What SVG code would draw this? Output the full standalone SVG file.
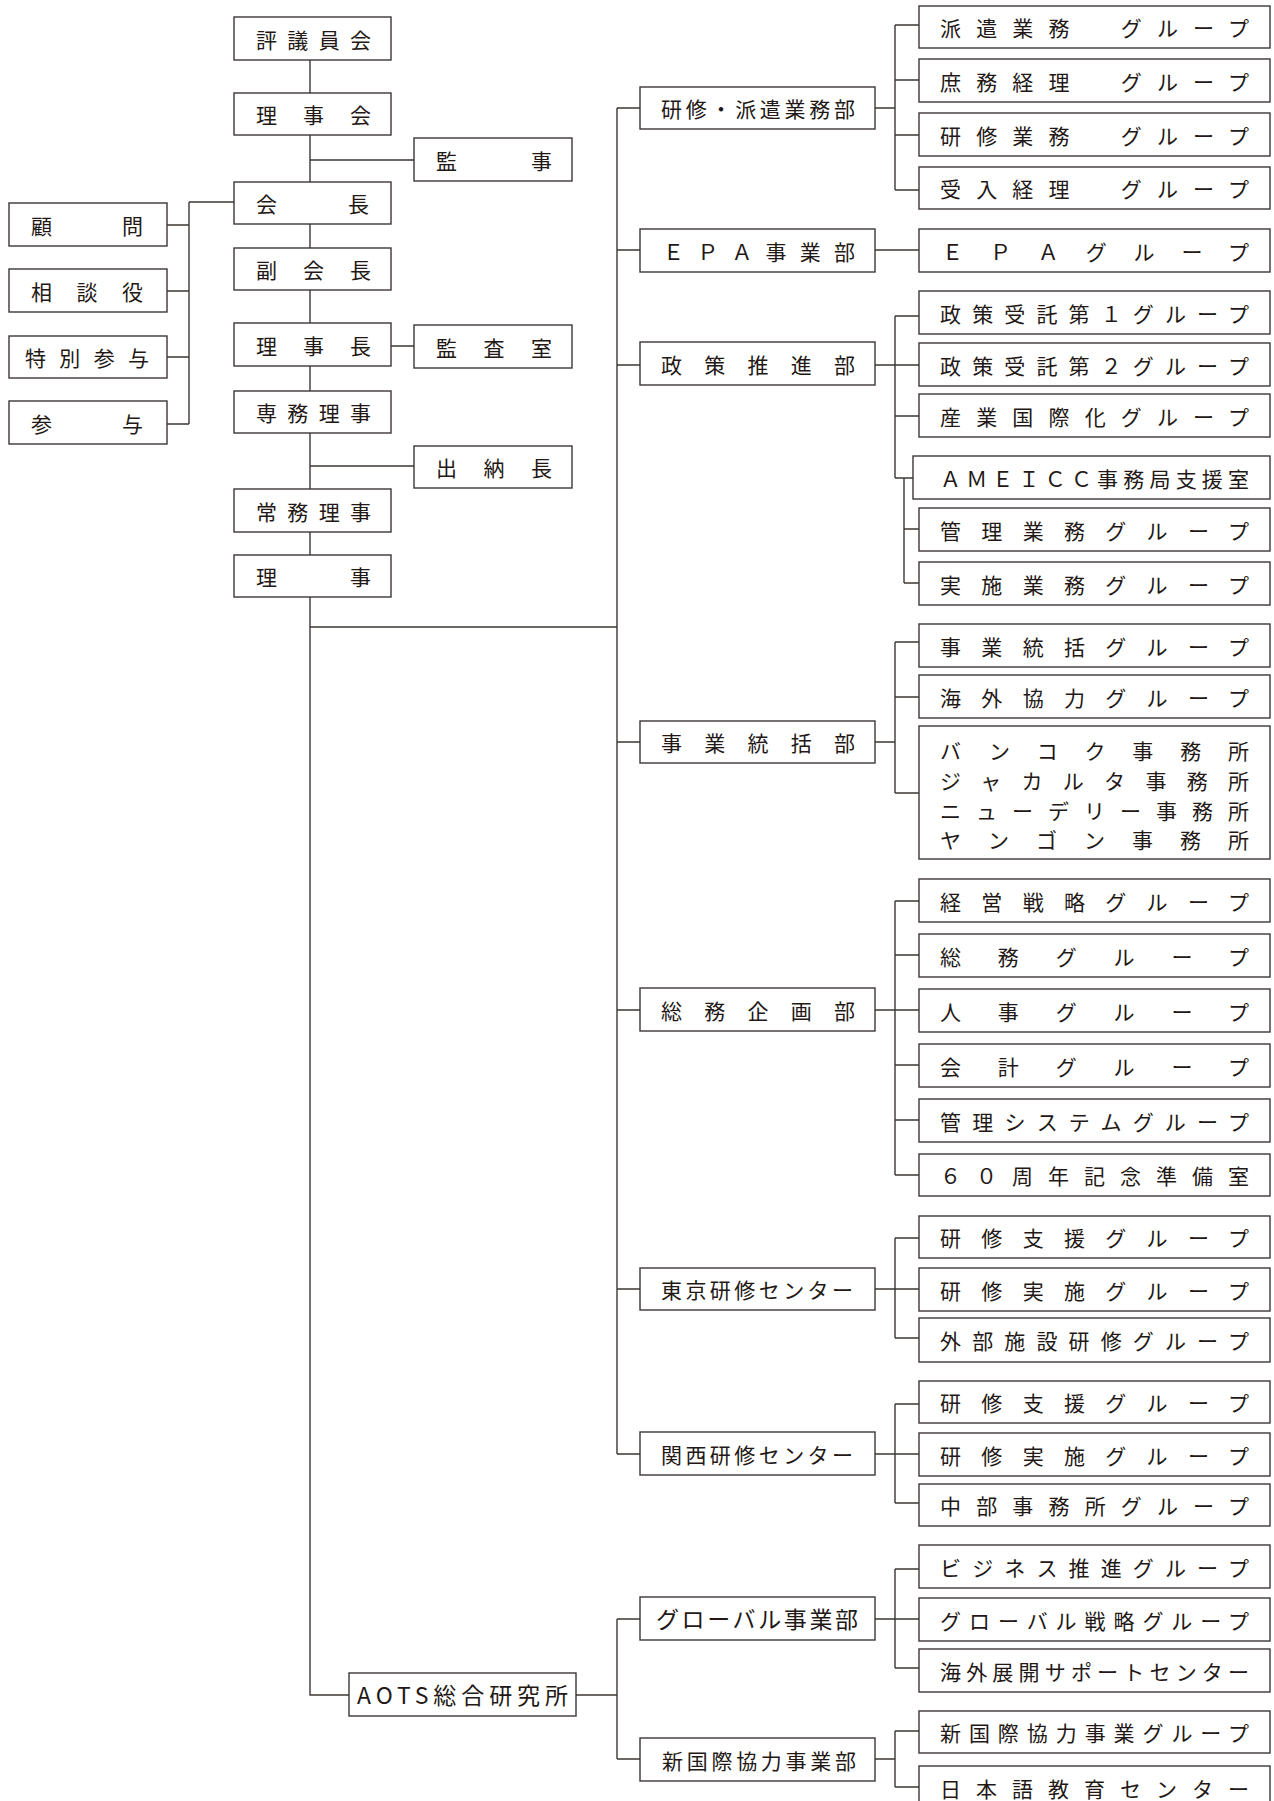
<svg xmlns="http://www.w3.org/2000/svg" width="1274" height="1801" viewBox="0 0 1274 1801">
<style>
.b{fill:#fff;stroke:#3b3735;stroke-width:1.4}
.t{font-family:"Noto Sans CJK JP","Noto Sans CJK SC",sans-serif;font-size:21px;fill:#231815}
.L{font-size:23px}
.c{fill:none;stroke:#3b3735;stroke-width:1.4}
</style>
<rect width="1274" height="1801" fill="#fff"/>
<g id="connectors" class="c">
<path d="M310 60V1695H349M310 160H414M310 466H414M310 627H617M391 346H414"/>
<path d="M189 202V424M189 202H234M167 225H189M167 291H189M167 357H189M167 424H189"/>
<path d="M617 108V1454M617 108H640M617 250H640M617 365H640M617 742H640M617 1010H640M617 1289H640M617 1454H640"/>
<path d="M576 1695H617M617 1619V1759M617 1619H640M617 1759H640"/>
<path d="M875 108H895M895 25V190M895 25H919M895 80H919M895 135H919M895 190H919"/>
<path d="M875 250H919"/>
<path d="M875 365H895M895 316V478M895 316H919M895 365H919M895 416H919M895 478H913M904 478V583M904 529H919M904 583H919"/>
<path d="M875 742H895M895 642V793M895 642H919M895 697H919M895 793H919"/>
<path d="M875 1010H895M895 901V1175M895 901H919M895 955H919M895 1010H919M895 1065H919M895 1120H919M895 1175H919"/>
<path d="M875 1289H895M895 1238V1338M895 1238H919M895 1289H919M895 1338H919"/>
<path d="M875 1454H895M895 1404V1503M895 1404H919M895 1454H919M895 1503H919"/>
<path d="M875 1619H895M895 1569V1668M895 1569H919M895 1619H919M895 1668H919"/>
<path d="M875 1759H895M895 1731V1787M895 1731H919M895 1787H919"/>
</g>
<g id="n-hyogiinkai"><rect class="b" x="234" y="17" width="157" height="43"/><text class="t" x="256" y="47.5" textLength="115" lengthAdjust="spacing">評議員会</text></g>
<g id="n-rijikai"><rect class="b" x="234" y="93" width="157" height="42"/><text class="t" x="256" y="122.5" textLength="115" lengthAdjust="spacing">理事会</text></g>
<g id="n-kaicho"><rect class="b" x="234" y="182" width="157" height="42"/><text class="t" x="256" y="211.5" textLength="113" lengthAdjust="spacing">会長</text></g>
<g id="n-fukukaicho"><rect class="b" x="234" y="248" width="157" height="42"/><text class="t" x="256" y="277.5" textLength="115" lengthAdjust="spacing">副会長</text></g>
<g id="n-rijicho"><rect class="b" x="234" y="323" width="157" height="43"/><text class="t" x="256" y="353.5" textLength="115" lengthAdjust="spacing">理事長</text></g>
<g id="n-senmu"><rect class="b" x="234" y="391" width="157" height="42"/><text class="t" x="256" y="420.5" textLength="115" lengthAdjust="spacing">専務理事</text></g>
<g id="n-jomu"><rect class="b" x="234" y="489" width="157" height="43"/><text class="t" x="256" y="519.5" textLength="115" lengthAdjust="spacing">常務理事</text></g>
<g id="n-riji"><rect class="b" x="234" y="555" width="157" height="42"/><text class="t" x="256" y="584.5" textLength="115" lengthAdjust="spacing">理事</text></g>
<g id="n-komon"><rect class="b" x="9" y="203" width="158" height="43"/><text class="t" x="31" y="233.5" textLength="112" lengthAdjust="spacing">顧問</text></g>
<g id="n-sodanyaku"><rect class="b" x="9" y="269" width="158" height="43"/><text class="t" x="31" y="299.5" textLength="112" lengthAdjust="spacing">相談役</text></g>
<g id="n-tokubetsu"><rect class="b" x="9" y="336" width="158" height="42"/><text class="t" x="25" y="365.5" textLength="124" lengthAdjust="spacing">特別参与</text></g>
<g id="n-sanyo"><rect class="b" x="9" y="401" width="158" height="43"/><text class="t" x="31" y="431.5" textLength="112" lengthAdjust="spacing">参与</text></g>
<g id="n-kanji"><rect class="b" x="414" y="138" width="158" height="43"/><text class="t" x="436" y="168.5" textLength="116" lengthAdjust="spacing">監事</text></g>
<g id="n-kansashitsu"><rect class="b" x="414" y="325" width="158" height="43"/><text class="t" x="436" y="355.5" textLength="116" lengthAdjust="spacing">監査室</text></g>
<g id="n-suitocho"><rect class="b" x="414" y="446" width="158" height="42"/><text class="t" x="436" y="475.5" textLength="116" lengthAdjust="spacing">出納長</text></g>
<g id="d-kenshu"><rect class="b" x="640" y="87" width="235" height="42"/><text class="t" x="661" y="116.5" textLength="194" lengthAdjust="spacing">研修・派遣業務部</text></g>
<g id="d-epa"><rect class="b" x="640" y="229" width="235" height="43"/><text class="t" x="663" y="259.5" textLength="192" lengthAdjust="spacing">ＥＰＡ事業部</text></g>
<g id="d-seisaku"><rect class="b" x="640" y="342" width="235" height="43"/><text class="t" x="661" y="372.5" textLength="194" lengthAdjust="spacing">政策推進部</text></g>
<g id="d-jigyo"><rect class="b" x="640" y="721" width="235" height="42"/><text class="t" x="661" y="750.5" textLength="194" lengthAdjust="spacing">事業統括部</text></g>
<g id="d-somu"><rect class="b" x="640" y="988" width="235" height="43"/><text class="t" x="661" y="1018.5" textLength="194" lengthAdjust="spacing">総務企画部</text></g>
<g id="d-tokyo"><rect class="b" x="640" y="1268" width="235" height="42"/><text class="t" x="661" y="1297.5" textLength="192" lengthAdjust="spacing">東京研修センター</text></g>
<g id="d-kansai"><rect class="b" x="640" y="1432" width="235" height="43"/><text class="t" x="661" y="1462.5" textLength="192" lengthAdjust="spacing">関西研修センター</text></g>
<g id="d-global"><rect class="b" x="640" y="1597" width="235" height="43"/><text class="t L" x="656" y="1627.5" textLength="202" lengthAdjust="spacing">グローバル事業部</text></g>
<g id="d-shinkokusai"><rect class="b" x="640" y="1738" width="235" height="43"/><text class="t" x="662" y="1768.5" textLength="194" lengthAdjust="spacing">新国際協力事業部</text></g>
<g id="n-aots"><rect class="b" x="349" y="1673" width="227" height="43"/><text class="t L" x="357" y="1703.5" textLength="211" lengthAdjust="spacing">AOTS総合研究所</text></g>
<g id="g1"><rect class="b" x="919" y="6" width="351" height="42"/><text class="t" x="940" y="35.5" textLength="309" lengthAdjust="spacing">派遣業務　グループ</text></g>
<g id="g2"><rect class="b" x="919" y="59" width="351" height="43"/><text class="t" x="940" y="89.5" textLength="309" lengthAdjust="spacing">庶務経理　グループ</text></g>
<g id="g3"><rect class="b" x="919" y="113" width="351" height="43"/><text class="t" x="940" y="143.5" textLength="309" lengthAdjust="spacing">研修業務　グループ</text></g>
<g id="g4"><rect class="b" x="919" y="167" width="351" height="42"/><text class="t" x="940" y="196.5" textLength="309" lengthAdjust="spacing">受入経理　グループ</text></g>
<g id="g5"><rect class="b" x="919" y="229" width="351" height="43"/><text class="t" x="942" y="259.5" textLength="307" lengthAdjust="spacing">ＥＰＡグループ</text></g>
<g id="g6"><rect class="b" x="919" y="291" width="351" height="43"/><text class="t" x="940" y="321.5" textLength="309" lengthAdjust="spacing">政策受託第１グループ</text></g>
<g id="g7"><rect class="b" x="919" y="343" width="351" height="43"/><text class="t" x="940" y="373.5" textLength="309" lengthAdjust="spacing">政策受託第２グループ</text></g>
<g id="g8"><rect class="b" x="919" y="394" width="351" height="43"/><text class="t" x="940" y="424.5" textLength="309" lengthAdjust="spacing">産業国際化グループ</text></g>
<g id="g9"><rect class="b" x="913" y="456" width="357" height="43"/><text class="t" x="940" y="486.5" textLength="309" lengthAdjust="spacing">ＡＭＥＩＣＣ事務局支援室</text></g>
<g id="g10"><rect class="b" x="919" y="508" width="351" height="43"/><text class="t" x="940" y="538.5" textLength="309" lengthAdjust="spacing">管理業務グループ</text></g>
<g id="g11"><rect class="b" x="919" y="562" width="351" height="43"/><text class="t" x="940" y="592.5" textLength="309" lengthAdjust="spacing">実施業務グループ</text></g>
<g id="g12"><rect class="b" x="919" y="624" width="351" height="43"/><text class="t" x="940" y="654.5" textLength="309" lengthAdjust="spacing">事業統括グループ</text></g>
<g id="g13"><rect class="b" x="919" y="675" width="351" height="43"/><text class="t" x="940" y="705.5" textLength="309" lengthAdjust="spacing">海外協力グループ</text></g>
<g id="g14"><rect class="b" x="919" y="726" width="351" height="133"/>
<text class="t" x="940" y="759" textLength="309" lengthAdjust="spacing">バンコク事務所</text>
<text class="t" x="940" y="789" textLength="309" lengthAdjust="spacing">ジャカルタ事務所</text>
<text class="t" x="940" y="819" textLength="309" lengthAdjust="spacing">ニューデリー事務所</text>
<text class="t" x="940" y="848" textLength="309" lengthAdjust="spacing">ヤンゴン事務所</text></g>
<g id="g15"><rect class="b" x="919" y="879" width="351" height="43"/><text class="t" x="940" y="909.5" textLength="309" lengthAdjust="spacing">経営戦略グループ</text></g>
<g id="g16"><rect class="b" x="919" y="934" width="351" height="43"/><text class="t" x="940" y="964.5" textLength="309" lengthAdjust="spacing">総務グループ</text></g>
<g id="g17"><rect class="b" x="919" y="989" width="351" height="43"/><text class="t" x="940" y="1019.5" textLength="309" lengthAdjust="spacing">人事グループ</text></g>
<g id="g18"><rect class="b" x="919" y="1044" width="351" height="43"/><text class="t" x="940" y="1074.5" textLength="309" lengthAdjust="spacing">会計グループ</text></g>
<g id="g19"><rect class="b" x="919" y="1099" width="351" height="43"/><text class="t" x="940" y="1129.5" textLength="309" lengthAdjust="spacing">管理システムグループ</text></g>
<g id="g20"><rect class="b" x="919" y="1154" width="351" height="42"/><text class="t" x="940" y="1183.5" textLength="309" lengthAdjust="spacing">６０周年記念準備室</text></g>
<g id="g21"><rect class="b" x="919" y="1216" width="351" height="42"/><text class="t" x="940" y="1245.5" textLength="309" lengthAdjust="spacing">研修支援グループ</text></g>
<g id="g22"><rect class="b" x="919" y="1268" width="351" height="43"/><text class="t" x="940" y="1298.5" textLength="309" lengthAdjust="spacing">研修実施グループ</text></g>
<g id="g23"><rect class="b" x="919" y="1318" width="351" height="44"/><text class="t" x="940" y="1348.5" textLength="309" lengthAdjust="spacing">外部施設研修グループ</text></g>
<g id="g24"><rect class="b" x="919" y="1381" width="351" height="42"/><text class="t" x="940" y="1410.5" textLength="309" lengthAdjust="spacing">研修支援グループ</text></g>
<g id="g25"><rect class="b" x="919" y="1433" width="351" height="43"/><text class="t" x="940" y="1463.5" textLength="309" lengthAdjust="spacing">研修実施グループ</text></g>
<g id="g26"><rect class="b" x="919" y="1484" width="351" height="42"/><text class="t" x="940" y="1513.5" textLength="309" lengthAdjust="spacing">中部事務所グループ</text></g>
<g id="g27"><rect class="b" x="919" y="1545" width="351" height="43"/><text class="t" x="940" y="1575.5" textLength="309" lengthAdjust="spacing">ビジネス推進グループ</text></g>
<g id="g28"><rect class="b" x="919" y="1598" width="351" height="43"/><text class="t" x="940" y="1628.5" textLength="309" lengthAdjust="spacing">グローバル戦略グループ</text></g>
<g id="g29"><rect class="b" x="919" y="1649" width="351" height="43"/><text class="t" x="940" y="1679.5" textLength="309" lengthAdjust="spacing">海外展開サポートセンター</text></g>
<g id="g30"><rect class="b" x="919" y="1711" width="351" height="42"/><text class="t" x="940" y="1740.5" textLength="309" lengthAdjust="spacing">新国際協力事業グループ</text></g>
<g id="g31"><rect class="b" x="919" y="1766" width="351" height="43"/><text class="t" x="940" y="1796.5" textLength="309" lengthAdjust="spacing">日本語教育センター</text></g>
</svg>
